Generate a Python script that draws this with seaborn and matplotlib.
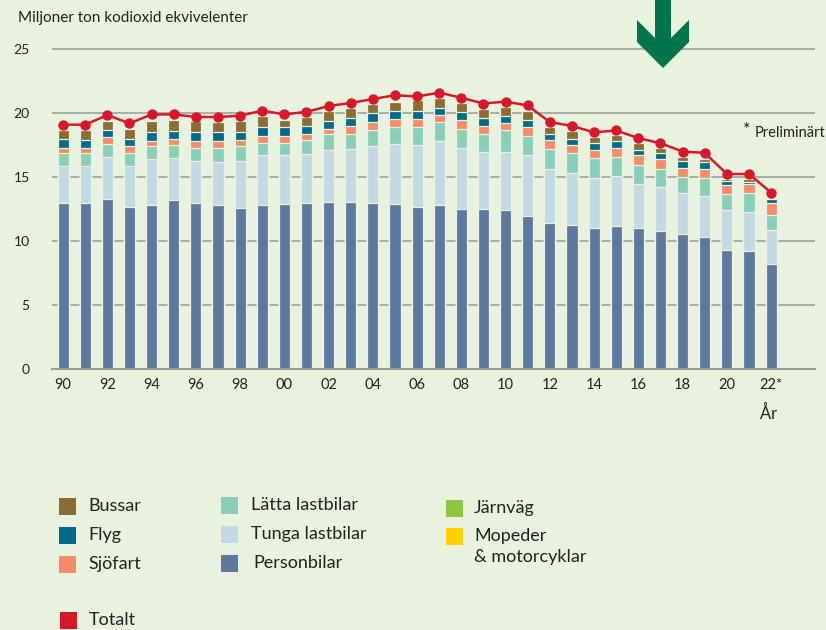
import pandas as pd
import matplotlib.pyplot as plt
import seaborn as sns
from matplotlib.patches import Rectangle, Polygon

sns.set_style('white')
plt.rcParams['font.family'] = ['Lato', 'DejaVu Sans']

# years 1990-2022, values in Mt CO2-eq
years = list(range(1990, 2023))
personbilar = [13.0, 13.0, 13.3, 12.7, 12.8, 13.2, 13.0, 12.85, 12.6, 12.8, 12.9, 12.95, 13.1, 13.1, 12.95, 12.9, 12.7,
               12.85, 12.5, 12.5, 12.4, 12.0, 11.45, 11.3, 11.05, 11.2, 11.05, 10.8, 10.55, 10.35, 9.35, 9.2, 8.2]
tunga = [2.9, 2.9, 3.3, 3.2, 3.6, 3.3, 3.3, 3.35, 3.65, 3.9, 3.8, 3.85, 4.0, 4.1, 4.45, 4.7, 4.8,
         4.95, 4.75, 4.45, 4.6, 4.7, 4.2, 4.0, 3.85, 3.9, 3.45, 3.4, 3.2, 3.15, 3.05, 3.05, 2.65]
latta = [1.0, 1.0, 1.0, 0.95, 1.0, 1.0, 1.0, 1.1, 1.15, 1.0, 1.0, 1.1, 1.3, 1.2, 1.3, 1.35, 1.45,
         1.5, 1.55, 1.45, 1.65, 1.55, 1.55, 1.6, 1.6, 1.45, 1.45, 1.45, 1.3, 1.4, 1.3, 1.55, 1.2]
sjofart = [0.4, 0.4, 0.5, 0.55, 0.4, 0.5, 0.5, 0.5, 0.5, 0.5, 0.5, 0.5, 0.4, 0.6, 0.6, 0.6, 0.6,
           0.55, 0.7, 0.6, 0.6, 0.7, 0.7, 0.6, 0.6, 0.75, 0.75, 0.75, 0.7, 0.75, 0.7, 0.7, 0.95]
flyg = [0.7, 0.6, 0.6, 0.6, 0.75, 0.6, 0.7, 0.75, 0.65, 0.75, 0.75, 0.6, 0.6, 0.65, 0.7, 0.65, 0.65,
        0.55, 0.6, 0.65, 0.5, 0.55, 0.5, 0.5, 0.6, 0.5, 0.45, 0.45, 0.55, 0.5, 0.3, 0.1, 0.3]
bussar = [0.7, 0.8, 0.7, 0.8, 0.85, 0.9, 0.85, 0.75, 0.85, 0.85, 0.55, 0.7, 0.8, 0.75, 0.7, 0.7, 0.8,
          0.8, 0.7, 0.65, 0.75, 0.65, 0.5, 0.6, 0.4, 0.5, 0.5, 0.4, 0.3, 0.3, 0.15, 0.25, 0.0]
totalt = [19.1, 19.1, 19.85, 19.2, 19.9, 19.9, 19.7, 19.7, 19.8, 20.2, 19.9, 20.1, 20.55, 20.8, 21.1, 21.4, 21.3,
          21.6, 21.2, 20.75, 20.9, 20.6, 19.3, 19.0, 18.5, 18.65, 18.05, 17.65, 17.0, 16.9, 15.25, 15.25, 13.8]
tick_labels = ['90', '92', '94', '96', '98', '00', '02', '04', '06', '08', '10', '12', '14', '16', '18', '20', '22*']

bg = '#e9f2df'
cols = {
    'Personbilar': '#5d799f',
    'Tunga lastbilar': '#c3d9e3',
    'Lätta lastbilar': '#88cfba',
    'Sjöfart': '#f58b68',
    'Flyg': '#006a8d',
    'Bussar': '#8b6d32',
}

df = pd.DataFrame({'Personbilar': personbilar, 'Tunga lastbilar': tunga, 'Lätta lastbilar': latta,
                   'Sjöfart': sjofart, 'Flyg': flyg, 'Bussar': bussar})
df['pos'] = range(len(years))
cum = df[list(cols)].cumsum(axis=1)
cum['pos'] = df['pos']

fig = plt.figure(figsize=(8.26, 6.3), dpi=100, facecolor=bg)
ax = fig.add_axes([0.063, 0.4138, 0.9241, 0.5103])
ax.set_facecolor(bg)

# stacked bars: draw cumulative heights, tallest first
for name in reversed(list(cols)):
    sns.barplot(data=cum, x='pos', y=name, color=cols[name], saturation=1, width=0.5,
                edgecolor=bg, linewidth=0.9, ax=ax, zorder=2)

sns.lineplot(x=df['pos'], y=totalt, color='#d7182a', lw=1.8, marker='o', markersize=7.5,
             markeredgewidth=0, ax=ax, zorder=4)

ax.set_xlim(-0.5, 34)
ax.set_ylim(0, 25.1)
ax.set_yticks([0, 5, 10, 15, 20, 25])
ax.set_yticklabels(['0', '5', '10', '15', '20', '25'], fontsize=10, color='#222222')
ax.set_xticks(range(0, 33, 2))
ax.set_xticklabels(tick_labels, fontsize=10.5, color='#222222')
ax.tick_params(axis='y', length=0, pad=16)
ax.tick_params(axis='x', length=0, pad=6)
ax.set_xlabel('')
ax.set_ylabel('')
ax.yaxis.grid(True, color='#a9ada7', lw=1.4)
ax.set_axisbelow(True)
for s in ['top', 'right', 'left']:
    ax.spines[s].set_visible(False)
ax.spines['bottom'].set_color('#9a9e98')
ax.spines['bottom'].set_linewidth(1.5)

W, H = 826, 630


def fx(px):
    return px / W


def fy(py):
    return 1 - py / H


fig.text(fx(18), fy(18), 'Miljoner ton kodioxid ekvivelenter', fontsize=11, va='center', color='#222222')
fig.text(fx(769), fy(413), 'År', fontsize=12, ha='center', va='center', color='#222222')
fig.text(fx(743), fy(130), '*', fontsize=13, va='center', color='#222222')
fig.text(fx(755), fy(133), 'Preliminärt', fontsize=10.5, va='center', color='#222222')

# green arrow at the top
arrow = [(655, 0), (671, 0), (671, 38), (689, 20), (689, 42), (663, 68), (637, 42), (637, 20), (655, 38)]
fig.patches.append(Polygon([(fx(x), fy(y)) for x, y in arrow], closed=True, transform=fig.transFigure,
                           facecolor='#00744b', edgecolor='none', zorder=5))

# legend drawn by hand
legend_items = [
    ('Bussar', '#8b6d32', 59, 506, 88),
    ('Flyg', '#006a8d', 59, 535, 88),
    ('Sjöfart', '#f58b68', 59, 564, 88),
    ('Lätta lastbilar', '#88cfba', 221, 505, 251),
    ('Tunga lastbilar', '#c3d9e3', 221, 534, 251),
    ('Personbilar', '#5d799f', 221, 563, 253),
    ('Järnväg', '#8dc63f', 446, 508, 474),
    ('Mopeder', '#ffd200', 446, 536, 474),
    ('Totalt', '#d7182a', 60, 620, 89),
]
for label, c, sx, cy, tx in legend_items:
    fig.patches.append(Rectangle((fx(sx), fy(cy + 8.5)), 17 / W, 17 / H, transform=fig.transFigure,
                                 facecolor=c, edgecolor='none'))
    fig.text(fx(tx), fy(cy), label, fontsize=13, va='center', color='#222222')
fig.text(fx(474), fy(557), '& motorcyklar', fontsize=13, va='center', color='#222222')

plt.savefig('out.png', dpi=100, facecolor=bg)
